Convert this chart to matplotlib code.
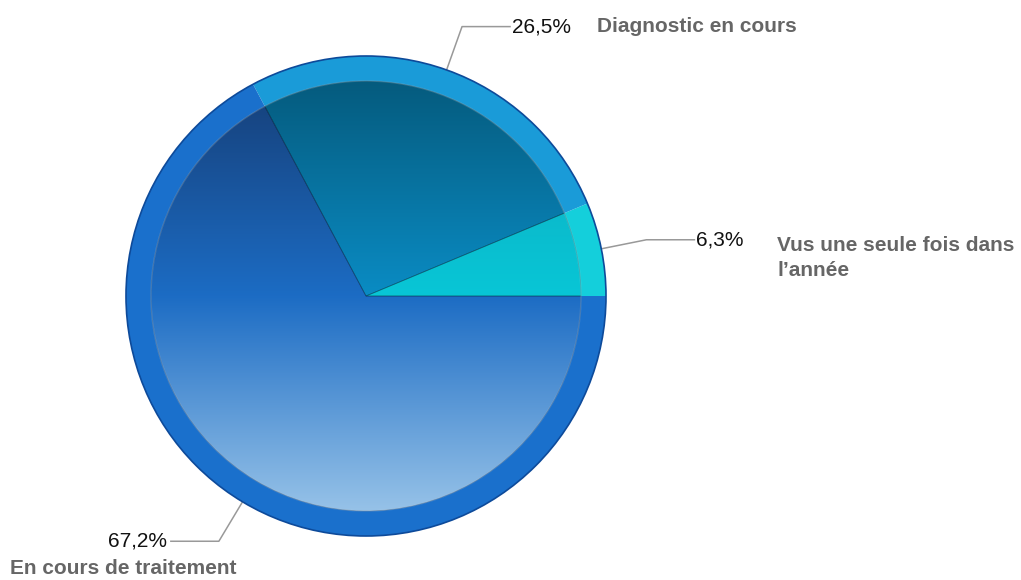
import numpy as np
import matplotlib.pyplot as plt
from matplotlib.colors import LinearSegmentedColormap

# data, in drawing order (counter-clockwise from 3 o'clock)
labels = ['Vus une seule fois dans\nl\u2019ann\u00e9e', 'Diagnostic en cours', 'En cours de traitement']
values = [6.3, 26.5, 67.2]
pct_text = ['6,3%', '26,5%', '67,2%']

ring_colors = ['#14cfdb', '#1a9bd8', '#1a70cc']
# vertical shading of the inner disc: top, middle, bottom
inner_stops = [
    ['#0fa9bd', '#08c6d6', '#5fe0ea'],
    ['#055b7e', '#0a8cc4', '#5ab8e2'],
    ['#163f78', '#1c6cc4', '#96c2e8'],
]

W, H = 1021, 580
cx, cy = 366, H - 296
R, r_in = 240, 215

plt.rcParams['font.family'] = ['Liberation Sans', 'DejaVu Sans']
fig = plt.figure(figsize=(W / 100, H / 100), dpi=100)
ax = fig.add_axes([0, 0, 1, 1])

# outer ring
outer, _ = ax.pie(values, center=(cx, cy), radius=R, startangle=0, counterclock=True,
                  colors=ring_colors, wedgeprops=dict(linewidth=0), frame=True)
ax.add_patch(plt.Circle((cx, cy), R, fill=False, ec='#0d4a9a', lw=1.2, zorder=3))

# inner disc with vertical gradient, one image per slice clipped to its wedge
inner, _ = ax.pie(values, center=(cx, cy), radius=r_in, startangle=0, counterclock=True,
                  colors=['none'] * 3, wedgeprops=dict(linewidth=0.6, edgecolor=(0, 0, 0, 0.25)),
                  frame=True)
grad = np.linspace(0, 1, 256).reshape(-1, 1)
for w, stops in zip(inner, inner_stops):
    cmap = LinearSegmentedColormap.from_list('g', stops)
    im = ax.imshow(grad, cmap=cmap, aspect='auto', origin='upper',
                   extent=[cx - r_in, cx + r_in, cy - r_in, cy + r_in], zorder=2)
    im.set_clip_path(w)
    w.set_zorder(2.5)
ax.add_patch(plt.Circle((cx, cy), r_in, fill=False, ec=(1, 1, 1, 0.2), lw=1.0, zorder=2.6))

# leader lines and percentages
ang = np.cumsum([0] + values)
mids = np.deg2rad((ang[:-1] + ang[1:]) / 2 * 3.6)
for m, pct in zip(mids, pct_text):
    x0, y0 = cx + R * np.cos(m), cy + R * np.sin(m)
    x1, y1 = cx + (R + 46) * np.cos(m), cy + (R + 46) * np.sin(m)
    side = 1 if np.cos(m) >= 0 else -1
    x2 = x1 + side * 48
    ax.plot([x0, x1, x2], [y0, y1, y1], color='#999999', lw=1.1, zorder=1)
    if side > 0:
        ax.text(x2 + 2, y1, pct, ha='left', va='center', fontsize=15, color='#111111')
    else:
        ax.text(x2 - 4, y1, pct, ha='right', va='center', fontsize=15, color='#111111')

# category names
ax.text(597, H - 26, labels[1], ha='left', va='center', fontsize=15,
        fontweight='bold', color='#666666')
ax.text(777, H - 258, labels[0], ha='left', va='center', fontsize=15,
        fontweight='bold', color='#666666', linespacing=1.4)
ax.text(10, H - 569, labels[2], ha='left', va='center', fontsize=15,
        fontweight='bold', color='#666666')

ax.set_xlim(0, W)
ax.set_ylim(0, H)
ax.set_aspect('equal')
ax.axis('off')

fig.savefig('out.png', dpi=100)
